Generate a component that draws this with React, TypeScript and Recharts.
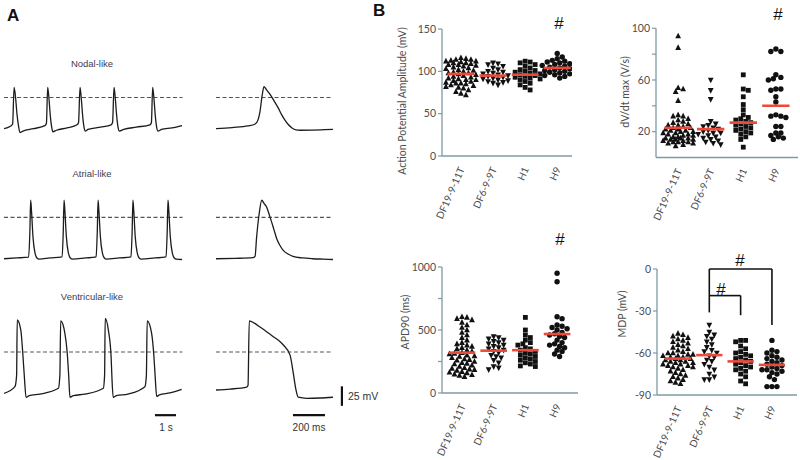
import React from 'react'
import { LineChart, Line, ScatterChart, Scatter, XAxis, YAxis, ReferenceLine } from 'recharts'

// ---------- Panel A: action potential recordings (t, mV) ----------
// trains: t in seconds, single APs: t in ms
const nodalTrain = [
  { t: 0, v: -40 }, { t: 0.3, v: -37 }, { t: 0.41, v: -34 }, { t: 0.48, v: 13 }, { t: 0.55, v: 0 },
  { t: 0.62, v: -22 }, { t: 0.7, v: -38 }, { t: 0.76, v: -45 }, { t: 0.9, v: -43 }, { t: 1.4, v: -40 },
  { t: 1.95, v: -36 }, { t: 2.02, v: -33 }, { t: 2.08, v: 13 }, { t: 2.14, v: -1 }, { t: 2.2, v: -22 },
  { t: 2.27, v: -38 }, { t: 2.33, v: -44 }, { t: 2.5, v: -42 }, { t: 3.0, v: -39 }, { t: 3.48, v: -35 },
  { t: 3.55, v: -32 }, { t: 3.62, v: 13 }, { t: 3.68, v: -1 }, { t: 3.74, v: -22 }, { t: 3.81, v: -38 },
  { t: 3.87, v: -43 }, { t: 4.0, v: -41 }, { t: 4.6, v: -38 }, { t: 5.1, v: -35 }, { t: 5.17, v: -32 },
  { t: 5.24, v: 13 }, { t: 5.3, v: -1 }, { t: 5.36, v: -22 }, { t: 5.43, v: -38 }, { t: 5.49, v: -43 },
  { t: 5.7, v: -41 }, { t: 6.3, v: -38 }, { t: 6.95, v: -35 }, { t: 7.02, v: -32 }, { t: 7.08, v: 13 },
  { t: 7.14, v: -1 }, { t: 7.2, v: -22 }, { t: 7.27, v: -38 }, { t: 7.33, v: -43 }, { t: 7.5, v: -41 },
  { t: 8.0, v: -39 }, { t: 8.48, v: -36 },
]
const nodalSingle = [
  { t: 0, v: -40 }, { t: 100, v: -38.5 }, { t: 200, v: -36.5 }, { t: 245, v: -34 }, { t: 262, v: -29 },
  { t: 275, v: -18 }, { t: 288, v: 2 }, { t: 300, v: 14 }, { t: 315, v: 10 }, { t: 338, v: 4 },
  { t: 362, v: -4 }, { t: 388, v: -13 }, { t: 410, v: -22 }, { t: 431, v: -29 }, { t: 453, v: -35 },
  { t: 475, v: -39 }, { t: 500, v: -41.5 }, { t: 525, v: -42 }, { t: 600, v: -41.8 }, { t: 680, v: -41.3 },
  { t: 731, v: -41 },
]
const atrialTrain = [
  { t: 0, v: -53 }, { t: 0.6, v: -52 }, { t: 1.17, v: -51 }, { t: 1.23, v: -20 }, { t: 1.27, v: 22 },
  { t: 1.31, v: 8 }, { t: 1.38, v: -25 }, { t: 1.47, v: -45 }, { t: 1.57, v: -52 }, { t: 1.67, v: -53.5 },
  { t: 2.2, v: -52 }, { t: 2.7, v: -51 }, { t: 2.76, v: -50.5 }, { t: 2.82, v: -20 }, { t: 2.86, v: 22 },
  { t: 2.9, v: 8 }, { t: 2.97, v: -25 }, { t: 3.06, v: -45 }, { t: 3.16, v: -52 }, { t: 3.26, v: -53.5 },
  { t: 3.9, v: -52 }, { t: 4.34, v: -51 }, { t: 4.38, v: -50.5 }, { t: 4.44, v: -20 }, { t: 4.48, v: 22 },
  { t: 4.52, v: 8 }, { t: 4.59, v: -25 }, { t: 4.68, v: -45 }, { t: 4.78, v: -52 }, { t: 4.88, v: -53.5 },
  { t: 5.5, v: -52 }, { t: 6.0, v: -51 }, { t: 6.04, v: -50.5 }, { t: 6.1, v: -20 }, { t: 6.14, v: 22 },
  { t: 6.18, v: 8 }, { t: 6.25, v: -25 }, { t: 6.34, v: -45 }, { t: 6.44, v: -52 }, { t: 6.54, v: -53.5 },
  { t: 7.2, v: -52 }, { t: 7.66, v: -51 }, { t: 7.71, v: -50.5 }, { t: 7.77, v: -20 }, { t: 7.81, v: 22 },
  { t: 7.85, v: 8 }, { t: 7.92, v: -25 }, { t: 8.01, v: -45 }, { t: 8.11, v: -52 }, { t: 8.21, v: -53.5 },
  { t: 8.48, v: -54 },
]
const atrialSingle = [
  { t: 0, v: -53 }, { t: 120, v: -52.5 }, { t: 231, v: -51.7 }, { t: 244, v: -50 }, { t: 254, v: -25 },
  { t: 270, v: 5 }, { t: 286, v: 22 }, { t: 300, v: 18 }, { t: 317, v: 13 }, { t: 332, v: 4 },
  { t: 348, v: -6 }, { t: 364, v: -17 }, { t: 379, v: -27 }, { t: 400, v: -36 }, { t: 419, v: -42 },
  { t: 450, v: -47 }, { t: 481, v: -50 }, { t: 540, v: -52 }, { t: 606, v: -53 }, { t: 670, v: -53.5 },
  { t: 731, v: -54 },
]
const ventTrain = [
  { t: 0, v: -53 }, { t: 0.52, v: -44.5 }, { t: 0.6, v: -30 }, { t: 0.63, v: 41 }, { t: 0.8, v: 28 },
  { t: 0.89, v: 0 }, { t: 0.97, v: -32 }, { t: 1.05, v: -58 }, { t: 1.2, v: -56 }, { t: 1.71, v: -54 },
  { t: 2.59, v: -46.5 }, { t: 2.66, v: -30 }, { t: 2.7, v: 40 }, { t: 2.9, v: 24 }, { t: 3.01, v: -1 },
  { t: 3.08, v: -30 }, { t: 3.14, v: -58 }, { t: 3.3, v: -56 }, { t: 3.86, v: -54 }, { t: 4.73, v: -46.5 },
  { t: 4.79, v: -30 }, { t: 4.82, v: 43 }, { t: 4.97, v: 28 }, { t: 5.1, v: -6 }, { t: 5.14, v: -33 },
  { t: 5.2, v: -58 }, { t: 5.35, v: -56 }, { t: 5.9, v: -54 }, { t: 6.71, v: -44.5 }, { t: 6.78, v: -30 },
  { t: 6.82, v: 40 }, { t: 7.03, v: 24 }, { t: 7.14, v: -6 }, { t: 7.2, v: -32 }, { t: 7.27, v: -57 },
  { t: 7.4, v: -55 }, { t: 7.9, v: -52.5 }, { t: 8.46, v: -48 },
]
const ventSingle = [
  { t: 0, v: -48.7 }, { t: 88, v: -47.5 }, { t: 192, v: -45 }, { t: 200, v: -43 }, { t: 208, v: 40 },
  { t: 240, v: 37 }, { t: 275, v: 32 }, { t: 310, v: 27 }, { t: 358, v: 19.6 }, { t: 390, v: 15 },
  { t: 421, v: 9 }, { t: 463, v: -4 }, { t: 483, v: -27 }, { t: 500, v: -48.7 }, { t: 514, v: -58 },
  { t: 567, v: -59.4 }, { t: 650, v: -59 }, { t: 731, v: -58 },
]

// ---------- Panel B: per-cell measurements, groups in cellLines order ----------
const cellLines = ['DF19-9-11T', 'DF6-9-9T', 'H1', 'H9']

const apAmplitude = [
  [116, 115, 114, 114, 113, 112, 112, 111, 110, 110, 109, 108, 108, 107, 106, 105, 104, 103, 102, 101, 100, 99, 98, 98,
    97, 96, 95, 94, 93, 92, 91, 90, 90, 89, 88, 87, 86, 86, 85, 84, 83, 82, 81, 80, 78, 76, 74, 72],
  [110, 109, 108, 106, 104, 102, 100, 99, 98, 97, 96, 95, 94, 93, 92, 91, 90, 89, 88, 87, 86, 84],
  [112, 111, 110, 108, 106, 104, 102, 101, 100, 99, 98, 97, 96, 95, 94, 93, 92, 91, 90, 88, 86, 84, 81, 78],
  [121, 117, 115, 113, 112, 111, 110, 109, 108, 107, 106, 105, 104, 103, 102, 101, 100, 99, 98, 97, 96, 95, 94, 92],
]
const apAmplitudeMean = [97, 95, 96, 104]

const dvdtMax = [
  [94, 85, 54, 53, 51, 44, 33, 32, 32, 30, 29, 28, 27, 26, 25, 25, 24, 23, 23, 22, 22, 21, 21, 20,
    20, 19, 19, 18, 18, 17, 17, 16, 16, 15, 15, 15, 14, 14, 14, 13, 13, 12, 12, 12, 11, 11, 10, 9],
  [60, 52, 45, 28, 26, 25, 24, 23, 22, 21, 20, 19, 19, 18, 17, 16, 15, 14, 13, 12, 11, 10],
  [64, 53, 52, 47, 41, 37, 33, 31, 30, 29, 28, 27, 26, 25, 24, 23, 22, 21, 20, 19, 18, 16, 14, 8],
  [84, 82, 82, 64, 62, 61, 60, 53, 53, 52, 47, 43, 33, 32, 32, 31, 24, 24, 19, 19, 17, 16, 15, 14],
]
const dvdtMean = [23, 22, 27, 40]

const apd90 = [
  [605, 600, 590, 580, 560, 540, 520, 500, 480, 460, 440, 420, 400, 390, 380, 370, 360, 350, 340, 330, 320, 315, 310, 300,
    295, 290, 280, 270, 265, 260, 250, 240, 235, 230, 220, 210, 200, 195, 190, 185, 180, 170, 165, 160, 150, 145, 140, 130],
  [447, 440, 430, 420, 410, 400, 390, 380, 370, 360, 350, 340, 330, 320, 300, 290, 280, 260, 240, 210, 200, 185],
  [600, 500, 460, 440, 420, 400, 390, 380, 360, 350, 340, 330, 320, 310, 300, 290, 280, 270, 260, 250, 240, 230, 215, 210],
  [950, 883, 605, 590, 540, 530, 520, 510, 500, 480, 470, 460, 450, 440, 420, 400, 390, 380, 370, 360, 340, 330, 310, 290],
]
const apd90Mean = [320, 336, 340, 468]

const mdp = [
  [-46, -47, -48, -49, -50, -51, -52, -53, -54, -55, -56, -57, -58, -59, -60, -60, -61, -61, -62, -62, -63, -63, -64, -64,
    -65, -65, -66, -66, -67, -67, -68, -68, -69, -69, -70, -70, -71, -72, -73, -74, -75, -76, -77, -78, -79, -80, -81, -82],
  [-40, -45, -47, -48, -50, -52, -54, -56, -58, -59, -60, -62, -63, -65, -66, -68, -70, -72, -75, -77, -79, -79],
  [-51, -51, -52, -55, -57, -59, -60, -61, -62, -63, -64, -65, -66, -67, -68, -69, -70, -71, -72, -73, -75, -77, -80, -82],
  [-51, -58, -59, -60, -62, -63, -64, -65, -66, -67, -68, -69, -70, -71, -72, -72, -73, -74, -75, -77, -79, -84, -84, -84],
]
const mdpMean = [-64, -61.5, -66, -68.5]

const FONT = 'Lato, "Liberation Sans", sans-serif'
const AXIS = '#7f9aa3'
const TICK_TXT = '#4d4d4d'
const PX_PER_MV = 0.78

// ---------- traces ----------
type Pt = { t: number; v: number }

function Trace({ data, zeroY, left, xDomain, pxPerX, yDomain, dashTo, children }: {
  data: Pt[]; zeroY: number; left: number; xDomain: [number, number]; pxPerX: number
  yDomain: [number, number]; dashTo: number; children?: React.ReactNode
}) {
  const width = (xDomain[1] - xDomain[0]) * pxPerX
  const height = (yDomain[1] - yDomain[0]) * PX_PER_MV
  const top = zeroY - yDomain[1] * PX_PER_MV
  return (
    <div style={{ position: 'absolute', left, top }}>
      <LineChart width={width} height={height} data={data} margin={{ top: 0, right: 0, bottom: 0, left: 0 }}>
        <XAxis type="number" dataKey="t" domain={xDomain} hide allowDataOverflow />
        <YAxis type="number" domain={yDomain} hide allowDataOverflow />
        <ReferenceLine segment={[{ x: 0, y: 0 }, { x: dashTo, y: 0 }]} stroke="#4b5660" strokeDasharray="4 2.5" strokeWidth={1.1} />
        <Line dataKey="v" type="monotone" stroke="#1c1c1c" strokeWidth={1.3} dot={false} isAnimationActive={false} />
        {children}
      </LineChart>
    </div>
  )
}

// ---------- dot plots ----------
// spread points of one group sideways so markers don't pile up (beeswarm)
function swarmOffsets(values: number[], pxPerUnit: number, d: number, maxHalf: number) {
  const order = values.map((_, i) => i).sort((a, b) => values[b] - values[a])
  const placed: { x: number; y: number }[] = []
  const out = new Array(values.length).fill(0)
  const step = d * 0.5
  const n = Math.ceil(maxHalf / step) * 2
  for (const i of order) {
    const y = values[i] * pxPerUnit
    let best = 0
    let bestGap = -Infinity
    for (let k = 0; k <= n; k++) {
      const off = k === 0 ? 0 : (k % 2 ? 1 : -1) * Math.ceil(k / 2) * step
      let gap = Infinity
      for (const p of placed) {
        if (Math.abs(p.y - y) >= d) continue
        gap = Math.min(gap, Math.hypot(p.x - off, p.y - y))
      }
      if (gap >= d * 0.9) { best = off; break }
      if (gap > bestGap) { bestGap = gap; best = off }
    }
    placed.push({ x: best, y })
    out[i] = best
  }
  return out
}

function Marker({ cx, cy, kind }: { cx: number; cy: number; kind: number }) {
  if (cx == null || cy == null || isNaN(cx)) return null
  const s = 2.9
  if (kind === 0) return <polygon points={`${cx},${cy - s * 1.15} ${cx + s},${cy + s * 0.8} ${cx - s},${cy + s * 0.8}`} fill="#111" />
  if (kind === 1) return <polygon points={`${cx},${cy + s * 1.15} ${cx + s},${cy - s * 0.8} ${cx - s},${cy - s * 0.8}`} fill="#111" />
  if (kind === 2) return <rect x={cx - 2.4} y={cy - 2.4} width={4.8} height={4.8} fill="#111" />
  return <circle cx={cx} cy={cy} r={2.7} fill="#111" />
}

function CatTick(props: any) {
  const { x, y, payload } = props
  const ax = x + 4
  const ay = y + 5
  return (
    <text x={ax} y={ay} transform={`rotate(-66, ${ax}, ${ay})`} textAnchor="end" fontSize={10}
      fontFamily={FONT} fill={TICK_TXT}>
      {cellLines[payload.value]}
    </text>
  )
}

type Geo = {
  left: number; top: number; width: number; height: number
  plotLeft: number; plotTop: number; plotRight: number; plotBottom: number
  xDomain: [number, number]
}

function DotPlot({ geo, groups, means, yDomain, yTicks, yFormat, children }: {
  geo: Geo; groups: number[][]; means: number[]; yDomain: [number, number]; yTicks: number[]
  yFormat?: (v: number) => string; children?: React.ReactNode
}) {
  const yAxisW = 30
  const xAxisH = 50
  const margin = {
    left: geo.plotLeft - geo.left - yAxisW,
    top: geo.plotTop - geo.top,
    right: geo.left + geo.width - geo.plotRight,
    bottom: geo.top + geo.height - geo.plotBottom - xAxisH,
  }
  const pxPerUnit = (geo.plotBottom - geo.plotTop) / (yDomain[1] - yDomain[0])
  const pxPerGroup = (geo.plotRight - geo.plotLeft) / (geo.xDomain[1] - geo.xDomain[0])
  const meanHalf = 0.42 * pxPerGroup
  const series = groups.map((vals, gi) => {
    const dx = swarmOffsets(vals, pxPerUnit, 5, 15)
    return vals.map((v, i) => ({ x: gi, y: v, dx: dx[i] }))
  })
  const meanData = means.map((m, gi) => ({ x: gi, y: m }))
  return (
    <div style={{ position: 'absolute', left: geo.left, top: geo.top }}>
      <ScatterChart width={geo.width} height={geo.height} margin={margin}>
        <XAxis type="number" dataKey="x" domain={geo.xDomain} ticks={[0, 1, 2, 3]} interval={0}
          tick={<CatTick />} tickLine={false} axisLine={{ stroke: AXIS, strokeWidth: 1.3 }}
          height={xAxisH} allowDataOverflow />
        <YAxis type="number" dataKey="y" domain={yDomain} ticks={yTicks} interval={0} width={yAxisW}
          tickFormatter={yFormat} tickSize={4} tickLine={{ stroke: AXIS, strokeWidth: 1.2 }}
          axisLine={{ stroke: AXIS, strokeWidth: 1.3 }}
          tick={{ fontSize: 10.5, fill: TICK_TXT, fontFamily: FONT }} allowDataOverflow />
        {children}
        {series.map((data, gi) => (
          <Scatter key={cellLines[gi]} name={cellLines[gi]} data={data} isAnimationActive={false}
            shape={(p: any) => <Marker cx={p.cx + (p.payload?.dx ?? p.dx ?? 0)} cy={p.cy} kind={gi} />} />
        ))}
        <Scatter name="mean" data={meanData} isAnimationActive={false}
          shape={(p: any) => (
            <line x1={p.cx - meanHalf} x2={p.cx + meanHalf} y1={p.cy} y2={p.cy} stroke="#ee4a3b" strokeWidth={2.6} />
          )} />
      </ScatterChart>
    </div>
  )
}

const geoAmp: Geo = { left: 370, top: 0, width: 230, height: 232, plotLeft: 442, plotTop: 29, plotRight: 572, plotBottom: 156, xDomain: [-0.59, 3.46] }
const geoDvdt: Geo = { left: 580, top: 0, width: 220, height: 232, plotLeft: 656, plotTop: 28.3, plotRight: 798, plotBottom: 157.5, xDomain: [-0.68, 3.68] }
const geoApd: Geo = { left: 370, top: 232, width: 230, height: 228, plotLeft: 442, plotTop: 267, plotRight: 578, plotBottom: 393, xDomain: [-0.63, 3.66] }
const geoMdp: Geo = { left: 580, top: 232, width: 220, height: 228, plotLeft: 657, plotTop: 269, plotRight: 797, plotBottom: 395, xDomain: [-0.67, 3.8] }

const bracket = { stroke: '#111', strokeWidth: 1.6, ifOverflow: 'visible' as const }

export default function App() {
  const txt = { fontFamily: '"Liberation Sans", Arial, sans-serif' }
  return (
    <div style={{ position: 'absolute', left: 0, top: 0, width: 800, height: 460, background: '#fff', overflow: 'hidden' }}>
      {/* Panel A */}
      <Trace data={nodalTrain} zeroY={97} left={4} xDomain={[0, 8.5]} pxPerX={21} yDomain={[-55, 25]} dashTo={8.5} />
      <Trace data={nodalSingle} zeroY={97} left={216} xDomain={[0, 740]} pxPerX={0.16} yDomain={[-55, 25]} dashTo={731} />
      <Trace data={atrialTrain} zeroY={217} left={4} xDomain={[0, 8.5]} pxPerX={21} yDomain={[-65, 30]} dashTo={8.5} />
      <Trace data={atrialSingle} zeroY={217} left={216} xDomain={[0, 740]} pxPerX={0.16} yDomain={[-65, 30]} dashTo={731} />
      <Trace data={ventTrain} zeroY={352} left={4} xDomain={[0, 8.5]} pxPerX={21} yDomain={[-105, 50]} dashTo={8.5}>
        <ReferenceLine segment={[{ x: 7.19, y: -81 }, { x: 8.19, y: -81 }]} stroke="#111" strokeWidth={2.2} />
      </Trace>
      <Trace data={ventSingle} zeroY={352} left={216} xDomain={[0, 1000]} pxPerX={0.16} yDomain={[-105, 50]} dashTo={731}>
        <ReferenceLine segment={[{ x: 481, y: -81 }, { x: 681, y: -81 }]} stroke="#111" strokeWidth={2.2} />
        <ReferenceLine segment={[{ x: 787, y: -44 }, { x: 787, y: -69 }]} stroke="#111" strokeWidth={2.2} />
      </Trace>

      {/* Panel B */}
      <DotPlot geo={geoAmp} groups={apAmplitude} means={apAmplitudeMean} yDomain={[0, 150]} yTicks={[0, 50, 100, 150]} />
      <DotPlot geo={geoDvdt} groups={dvdtMax} means={dvdtMean} yDomain={[0, 100]} yTicks={[20, 40, 60, 80, 100]}
        yFormat={(v) => (v === 40 || v === 80 ? '' : String(v))} />
      <DotPlot geo={geoApd} groups={apd90} means={apd90Mean} yDomain={[0, 1000]} yTicks={[0, 250, 500, 750, 1000]}
        yFormat={(v) => (v === 250 || v === 750 ? '' : String(v))} />
      <DotPlot geo={geoMdp} groups={mdp} means={mdpMean} yDomain={[-90, 0]} yTicks={[-90, -60, -30, 0]}>
        <ReferenceLine segment={[{ x: 1, y: 0 }, { x: 3, y: 0 }]} {...bracket} />
        <ReferenceLine segment={[{ x: 1, y: 0 }, { x: 1, y: -31 }]} {...bracket} />
        <ReferenceLine segment={[{ x: 3, y: 0 }, { x: 3, y: -40 }]} {...bracket} />
        <ReferenceLine segment={[{ x: 1, y: -19 }, { x: 2, y: -19 }]} {...bracket} />
        <ReferenceLine segment={[{ x: 2, y: -19 }, { x: 2, y: -33 }]} {...bracket} />
      </DotPlot>

      {/* text annotations */}
      <svg width={800} height={460} style={{ position: 'absolute', left: 0, top: 0, pointerEvents: 'none' }}>
        <text x={7} y={21} fontSize={17} fontWeight="bold" {...txt} fill="#111">A</text>
        <text x={373} y={16} fontSize={17} fontWeight="bold" {...txt} fill="#111">B</text>
        <text x={92} y={67} fontSize={9.5} textAnchor="middle" {...txt} fill="#3d3d52">Nodal-like</text>
        <text x={92} y={177} fontSize={9.5} textAnchor="middle" {...txt} fill="#3d3d52">Atrial-like</text>
        <text x={92} y={300} fontSize={9.5} textAnchor="middle" {...txt} fill="#3d3d52">Ventricular-like</text>
        <text x={166} y={431} fontSize={10} textAnchor="middle" {...txt} fill="#333">1 s</text>
        <text x={309} y={431} fontSize={10} textAnchor="middle" {...txt} fill="#333">200 ms</text>
        <text x={348} y={400} fontSize={10.5} {...txt} fill="#333">25 mV</text>

        <text transform="translate(406, 101) rotate(-90)" fontSize={10.5} textAnchor="middle" fontFamily={FONT} fill={TICK_TXT}>Action Potential Amplitude (mV)</text>
        <text transform="translate(629, 92) rotate(-90)" fontSize={10.5} textAnchor="middle" fontFamily={FONT} fill={TICK_TXT}>dV/dt max (V/s)</text>
        <text transform="translate(409, 322) rotate(-90)" fontSize={10.5} textAnchor="middle" fontFamily={FONT} fill={TICK_TXT}>APD90 (ms)</text>
        <text transform="translate(626, 314) rotate(-90)" fontSize={10.5} textAnchor="middle" fontFamily={FONT} fill={TICK_TXT}>MDP (mV)</text>

        <text x={559} y={29} fontSize={17} textAnchor="middle" {...txt} fill="#111">#</text>
        <text x={778} y={19.5} fontSize={17} textAnchor="middle" {...txt} fill="#111">#</text>
        <text x={560} y={245} fontSize={17} textAnchor="middle" {...txt} fill="#111">#</text>
        <text x={740} y={265.5} fontSize={17} textAnchor="middle" {...txt} fill="#111">#</text>
        <text x={721} y={294.5} fontSize={17} textAnchor="middle" {...txt} fill="#111">#</text>
      </svg>
    </div>
  )
}
